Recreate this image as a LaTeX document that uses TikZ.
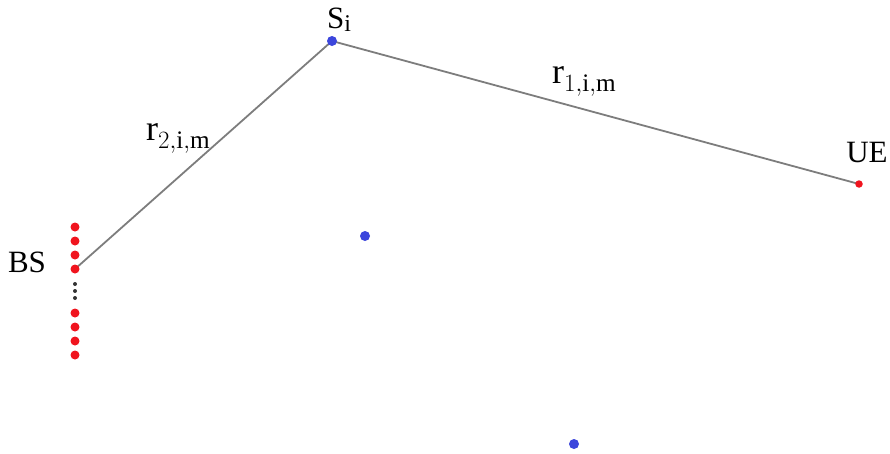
\documentclass[tikz,border=0pt]{standalone}
\usepackage{fontspec}
\setmainfont{Liberation Serif}
\usetikzlibrary{backgrounds}
\definecolor{dotred}{RGB}{240,20,30}
\definecolor{dotblue}{RGB}{60,70,220}
\definecolor{linkgray}{RGB}{125,125,125}
\begin{document}
\begin{tikzpicture}[x=1pt,y=-1pt,
  reddot/.style={circle,fill=dotred,draw=none,minimum size=9pt,inner sep=0pt},
  uedot/.style={circle,fill=dotred,draw=none,minimum size=7.5pt,inner sep=0pt},
  bluedot/.style={circle,fill=dotblue,draw=none,minimum size=10pt,inner sep=0pt},
  blackdot/.style={circle,fill=black!80,draw=none,minimum size=4pt,inner sep=0pt},
  link/.style={draw=linkgray,line width=1.8pt},
  lbl/.style={inner sep=0pt,font=\fontsize{31}{36}\selectfont},
  mlbl/.style={inner sep=0pt,font=\fontsize{36}{40}\selectfont}]
\useasboundingbox (0,0) rectangle (890,453);
% BS array
\node[reddot] (b1) at (75,227) {};
\node[reddot] (b2) at (75,241) {};
\node[reddot] (b3) at (75,255) {};
\node[reddot] (b4) at (75,269) {};
\node[blackdot] (k1) at (75,284) {};
\node[blackdot] (k2) at (75,291) {};
\node[blackdot] (k3) at (75,298) {};
\node[reddot] (b5) at (75,313) {};
\node[reddot] (b6) at (75,327) {};
\node[reddot] (b7) at (75,341) {};
\node[reddot] (b8) at (75,355) {};
% scatterers and UE
\node[bluedot] (s) at (332,41) {};
\node[bluedot] (s2) at (365,236) {};
\node[bluedot] (s3) at (574,444) {};
\node[uedot] (ue) at (859,184) {};
% links
\begin{scope}[on background layer]
\draw[link] (b4.center) -- (s.center) -- (ue.center);
\end{scope}
% labels
\node[lbl] (bsl) at (27,262) {BS};
\node[lbl] (uel) at (867,152) {UE};
\node[lbl,anchor=base west] (sl) at (327,28) {S\raisebox{-0.12em}{\fontsize{24}{26}\selectfont i}};
\node[mlbl,anchor=base west] (r2) at (146,140) {$\mathrm{r}_{2,\mathrm{i},\mathrm{m}}$};
\node[mlbl,anchor=base west] (r1) at (552,83) {$\mathrm{r}_{1,\mathrm{i},\mathrm{m}}$};
\end{tikzpicture}
\end{document}
